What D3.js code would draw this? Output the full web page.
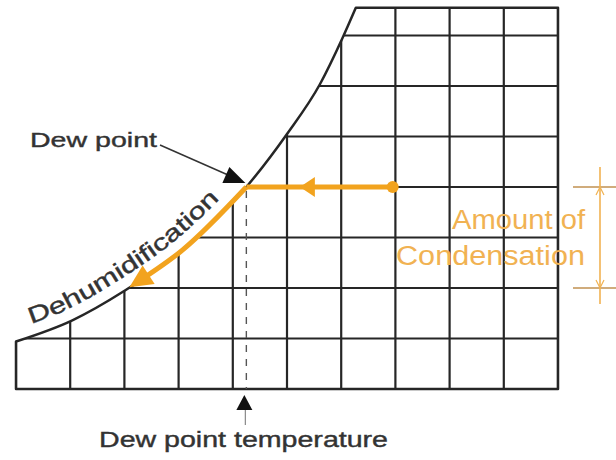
<!DOCTYPE html>
<html>
<head>
<meta charset="utf-8">
<script src="https://cdn.jsdelivr.net/npm/d3@7"></script>
<style>
  html, body { margin: 0; padding: 0; background: #ffffff; }
  svg { display: block; }
  text { font-family: "Liberation Sans", Arial, Helvetica, sans-serif; }
</style>
</head>
<body>
<svg id="chart" width="616" height="460"></svg>
<script>
// ---- data (grid units: columns = temperature steps, rows = humidity steps) ----
const gridCols = [0, 1, 2, 3, 4, 5, 6, 7, 8, 9, 10];
const gridRows = [0, 1, 2, 3, 4, 5, 6, 7];
const topRow = 7.55;
const satTemp = [0, 1.04, 2.01, 3.07, 4.25, 5.0, 5.61, 6.02, 6.27];
const satHum  = [0.94, 1.36, 1.95, 2.75, 4.0, 5.05, 6.04, 6.94, 7.55];
const dewTemp = 4.25, dewHum = 4.0;
const startTemp = 6.95;              // initial air state (orange dot)
const midArrowTemp = 5.33;           // arrow head on the cooling line
const dehumEnd = { temp: 2.2, hum: 2.09 };
const condTop = 4, condBottom = 2;   // bracket rows for "Amount of Condensation"
const labels = {
  dew: "Dew point",
  dewTemp: "Dew point temperature",
  dehum: "Dehumidification",
  amount1: "Amount of",
  amount2: "Condensation"
};

const svg = d3.select("#chart");
const x = d3.scaleLinear().domain([0, 10]).range([16, 558]);
const y = d3.scaleLinear().domain([0, 7]).range([389, 35.5]);

const ink = "#262626";
const orange = "#f2a31e";
const lightOrange = "#f1b252";

const satPts = satTemp.map((t, i) => [t, satHum[i]]);
const line = d3.line().x(d => x(d[0])).y(d => y(d[1])).curve(d3.curveMonotoneX);

// region clip (below/right of saturation curve)
const regionD = line(satPts) +
  `L${x(10)},${y(topRow)}L${x(10)},${y(0)}L${x(0)},${y(0)}Z`;
svg.append("clipPath").attr("id", "region").append("path").attr("d", regionD);

const grid = svg.append("g").attr("clip-path", "url(#region)");
grid.selectAll("line.v").data(gridCols).join("line")
  .attr("x1", d => x(d)).attr("x2", d => x(d))
  .attr("y1", y(topRow)).attr("y2", y(0))
  .attr("stroke", ink).attr("stroke-width", 2.2);
grid.selectAll("line.h").data(gridRows).join("line")
  .attr("x1", x(0)).attr("x2", x(10))
  .attr("y1", d => y(d)).attr("y2", d => y(d))
  .attr("stroke", ink).attr("stroke-width", 2.2);

// outline
svg.append("path").attr("d", regionD)
  .attr("fill", "none").attr("stroke", ink).attr("stroke-width", 2.5)
  .attr("stroke-linejoin", "round");

// dashed dew point temperature line
const dx = x(dewTemp), dy = y(dewHum);
svg.append("line")
  .attr("x1", dx).attr("x2", dx).attr("y1", dy + 4).attr("y2", y(0))
  .attr("stroke", "#555").attr("stroke-width", 1.4).attr("stroke-dasharray", "7,7");

// arrow under axis
svg.append("line").attr("x1", dx - 1).attr("x2", dx - 1).attr("y1", y(0) + 18).attr("y2", y(0) + 36)
  .attr("stroke", "#888").attr("stroke-width", 1.2);
svg.append("path")
  .attr("d", `M${dx - 2},${y(0) + 6}L${dx - 10},${y(0) + 21}L${dx + 6},${y(0) + 21}Z`)
  .attr("fill", "#111");

svg.append("text").text(labels.dewTemp)
  .attr("x", 99).attr("y", 447)
  .attr("font-size", 22).attr("fill", "#333").attr("stroke", "#333").attr("stroke-width", 0.4)
  .attr("textLength", 289).attr("lengthAdjust", "spacingAndGlyphs");

// Dew point label + leader arrow
svg.append("text").text(labels.dew)
  .attr("x", 30).attr("y", 147)
  .attr("font-size", 21).attr("fill", "#333").attr("stroke", "#333").attr("stroke-width", 0.4)
  .attr("textLength", 127).attr("lengthAdjust", "spacingAndGlyphs");
svg.append("line").attr("x1", 160).attr("y1", 145).attr("x2", dx - 16).attr("y2", dy - 11)
  .attr("stroke", "#333").attr("stroke-width", 1.5);
svg.append("path")
  .attr("d", `M${dx - 1},${dy - 4}L${dx - 24},${dy - 4}L${dx - 17},${dy - 20}Z`)
  .attr("fill", "#111");

// orange cooling line (horizontal)
svg.append("line")
  .attr("x1", x(startTemp)).attr("x2", dx)
  .attr("y1", y(dewHum)).attr("y2", y(dewHum))
  .attr("stroke", orange).attr("stroke-width", 5);
svg.append("circle").attr("cx", x(startTemp)).attr("cy", y(dewHum)).attr("r", 6)
  .attr("fill", orange);
const mx = x(midArrowTemp);
svg.append("path")
  .attr("d", `M${mx - 5},${dy}L${mx + 10},${dy - 10}L${mx + 10},${dy + 10}Z`)
  .attr("fill", orange);

// orange dehumidification along curve
const dehumPts = [[dehumEnd.temp, dehumEnd.hum]]
  .concat(satPts.filter(p => p[0] > dehumEnd.temp && p[0] <= dewTemp));
const dehumPath = svg.append("path").attr("d", line(dehumPts))
  .attr("fill", "none").attr("stroke", orange).attr("stroke-width", 5);
// arrow head at lower-left end
{
  const n = dehumPath.node();
  const p0 = n.getPointAtLength(0), p1 = n.getPointAtLength(16);
  const ang = Math.atan2(p1.y - p0.y, p1.x - p0.x);
  const tip = [p0.x - 7 * Math.cos(ang), p0.y - 7 * Math.sin(ang)];
  const base = [tip[0] + 23 * Math.cos(ang), tip[1] + 23 * Math.sin(ang)];
  const nx = -Math.sin(ang), ny = Math.cos(ang);
  svg.append("path")
    .attr("d", `M${tip[0]},${tip[1]}L${base[0] + 11 * nx},${base[1] + 11 * ny}L${base[0] - 11 * nx},${base[1] - 11 * ny}Z`)
    .attr("fill", orange);
}

// Dehumidification label along an offset of the curve
{
  const tmp = svg.append("path").attr("d", line(satPts)).attr("fill", "none").attr("stroke", "none");
  const n = tmp.node();
  const L = n.getTotalLength();
  const off = 12;
  const pts = [];
  for (let s = 0; s <= L; s += 2) {
    const a = n.getPointAtLength(Math.max(0, s - 4));
    const b = n.getPointAtLength(Math.min(L, s + 4));
    const p = n.getPointAtLength(s);
    let tx = b.x - a.x, ty = b.y - a.y;
    const len = Math.hypot(tx, ty) || 1;
    tx /= len; ty /= len;
    pts.push([p.x + ty * off, p.y - tx * off]);
  }
  tmp.remove();
  svg.append("defs").append("path").attr("id", "dehumPath")
    .attr("d", d3.line().curve(d3.curveBasis)(pts));
  svg.append("text")
    .attr("font-size", 23).attr("fill", "#333").attr("stroke", "#333").attr("stroke-width", 0.4)
    .append("textPath").attr("href", "#dehumPath")
    .attr("startOffset", 20)
    .attr("textLength", 228).attr("lengthAdjust", "spacingAndGlyphs")
    .text(labels.dehum);
}

// Amount of condensation bracket
[condTop, condBottom].forEach(r => {
  svg.append("line").attr("x1", 573).attr("x2", 616).attr("y1", y(r)).attr("y2", y(r))
    .attr("stroke", "#c09050").attr("stroke-width", 1.6);
});
svg.append("line").attr("x1", 600).attr("x2", 600).attr("y1", y(condTop) - 20).attr("y2", y(condBottom) + 16)
  .attr("stroke", lightOrange).attr("stroke-width", 1.6);
svg.append("path")
  .attr("d", `M596,${y(condTop) + 8}L600,${y(condTop)}L604,${y(condTop) + 8}M596,${y(condBottom) - 8}L600,${y(condBottom)}L604,${y(condBottom) - 8}`)
  .attr("fill", "none").attr("stroke", lightOrange).attr("stroke-width", 1.2);

svg.append("text").text(labels.amount1)
  .attr("x", 452).attr("y", 229)
  .attr("font-size", 27).attr("fill", lightOrange)
  .attr("textLength", 133).attr("lengthAdjust", "spacingAndGlyphs");
svg.append("text").text(labels.amount2)
  .attr("x", 396).attr("y", 265)
  .attr("font-size", 27).attr("fill", lightOrange)
  .attr("textLength", 189).attr("lengthAdjust", "spacingAndGlyphs");
</script>
</body>
</html>
